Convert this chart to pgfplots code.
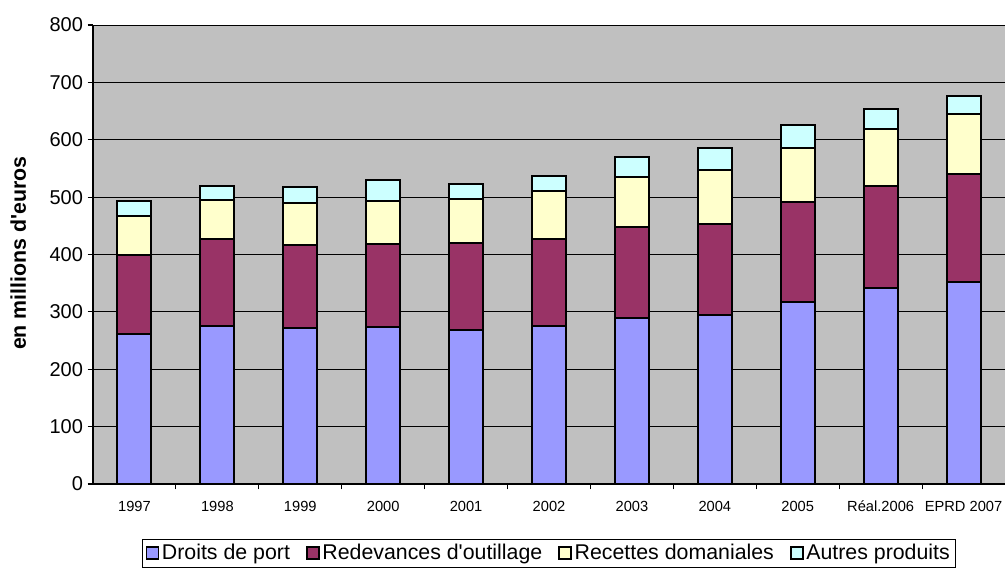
\documentclass[border=0pt]{standalone}
\usepackage{fontspec}
\setmainfont{Liberation Sans}
\usepackage{pgfplots}
\usepackage{pgfplotstable}
\pgfplotsset{compat=1.18}
\definecolor{cDroits}{HTML}{9999FF}
\definecolor{cRed}{HTML}{993366}
\definecolor{cRec}{HTML}{FFFFCC}
\definecolor{cAut}{HTML}{CCFFFF}
\definecolor{cBg}{HTML}{C0C0C0}
\pgfplotstableread{
x d r c a
0 262 138 67 27
1 276 151 68 25
2 272 145 73 27
3 273 146 75 36
4 269 151 77 26
5 275 152 84 26
6 290 158 87 35
7 295 159 94 37
8 318 173 94 40
9 341 178 100 34
10 352 188 105 31
}\data
\begin{document}
\begin{tikzpicture}[x=1pt,y=1pt]
\begin{axis}[
  at={(0pt,0pt)}, anchor=south west,
  scale only axis, width=684pt, height=344.25pt,
  ybar stacked, bar width=25.5pt,
  xmin=-0.5, xmax=10.5, ymin=0, ymax=800,
  xtick={0,...,10},
  xticklabels={1997,1998,1999,2000,2001,2002,2003,2004,2005,Réal.2006,EPRD 2007},
  minor xtick={0.5,1.5,...,9.5},
  ytick={0,100,...,800},
  axis x line*=bottom, axis y line*=left,
  axis line style={black, line width=0.8pt},
  tick align=outside,
  major x tick style={draw=none},
  minor x tick style={black, line width=0.8pt},
  major y tick style={black, line width=0.8pt},
  major tick length=4pt, minor tick length=4pt,
  /pgf/number format/assume math mode=true,
  yticklabel style={font=\fontsize{15}{15}\selectfont},
  xticklabel style={font=\fontsize{11}{11}\selectfont, text height=8pt, text depth=1pt, yshift=-5pt},
  axis background/.style={fill=cBg},
  ymajorgrids, grid style={black, line width=0.6pt},
  every axis y label/.style={at={(axis description cs:0,0.503)}, xshift=-56pt, rotate=90, anchor=center},
  ylabel={en millions d\textquotesingle euros},
  ylabel style={font=\bfseries\fontsize{16}{16}\selectfont},
  legend style={at={(axis description cs:0.5,-0.1503)}, anchor=center, legend columns=4,
    draw=black, line width=0.6pt, font=\fontsize{16}{18}\selectfont, inner sep=2pt,
    /tikz/every even column/.append style={column sep=10pt}},
  legend image code/.code={\draw[#1, draw=black, line width=1.3pt] (0pt,-4.5pt) rectangle (9pt,4.5pt);},
  every axis plot/.append style={draw=black, line width=1.5pt},
]
\addplot[fill=cDroits] table[x=x,y=d]{\data};
\addplot[fill=cRed] table[x=x,y=r]{\data};
\addplot[fill=cRec] table[x=x,y=c]{\data};
\addplot[fill=cAut] table[x=x,y=a]{\data};
\legend{Droits de port,Redevances d\textquotesingle outillage,Recettes domaniales,Autres produits}
\end{axis}
\pgfresetboundingbox
\useasboundingbox (-69.75pt,-64.5pt) rectangle (684pt,363pt);
\end{tikzpicture}
\end{document}
